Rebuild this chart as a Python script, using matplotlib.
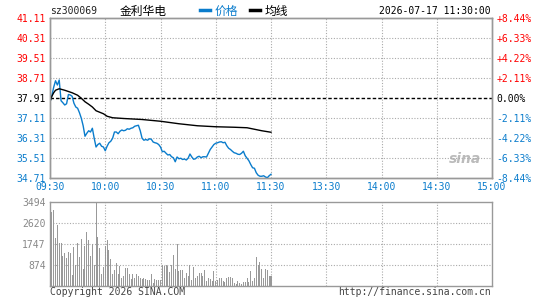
import matplotlib
matplotlib.use("Agg")
import matplotlib.pyplot as plt

# minute index from 09:30 (lunch break collapsed, 0..240)
price = [37.76, 38.00, 38.34, 38.60, 38.43, 38.63, 37.80, 37.72, 37.63, 37.68,
         38.05, 38.03, 37.98, 37.70, 37.55, 37.50, 37.32, 37.10, 36.80, 36.38,
         36.50, 36.60, 36.55, 36.70, 36.30, 35.95, 36.05, 36.10, 35.98, 35.95,
         35.80, 35.98, 36.12, 36.18, 36.30, 36.55, 36.55, 36.48, 36.58, 36.63,
         36.60, 36.62, 36.68, 36.66, 36.70, 36.72, 36.78, 36.80, 36.82, 36.60,
         36.30, 36.22, 36.25, 36.22, 36.28, 36.26, 36.15, 36.12, 36.10, 36.05,
         35.95, 35.76, 35.78, 35.70, 35.63, 35.65, 35.56, 35.52, 35.36, 35.55,
         35.48, 35.50, 35.45, 35.47, 35.43, 35.50, 35.67, 35.55, 35.46, 35.48,
         35.55, 35.58, 35.52, 35.56, 35.56, 35.55, 35.70, 35.85, 35.95, 36.05,
         36.10, 36.12, 36.15, 36.16, 36.12, 36.14, 36.00, 35.90, 35.85, 35.78,
         35.72, 35.70, 35.66, 35.65, 35.70, 35.78, 35.60, 35.50, 35.40, 35.25,
         35.12, 35.10, 34.92, 34.82, 34.78, 34.78, 34.80, 34.75, 34.72, 34.80,
         34.86]
minutes = list(range(len(price)))

avg_min = [0, 1, 2, 3, 5, 8, 12, 15, 17, 19, 21, 23, 25, 27, 29, 31, 34, 40,
           50, 60, 70, 80, 90, 100, 107, 111, 115, 120]
avg_val = [37.76, 37.98, 38.12, 38.22, 38.28, 38.22, 38.12, 38.02, 37.90, 37.76,
           37.66, 37.55, 37.40, 37.34, 37.28, 37.18, 37.12, 37.09, 37.05, 36.98,
           36.88, 36.80, 36.76, 36.74, 36.72, 36.66, 36.60, 36.54]

volume = [461, 3075, 3145, 1985, 2558, 1803, 1803, 1258, 1384, 1174,
          1426, 1384, 461, 1635, 880, 1803, 1216, 1971, 713, 1650,
          2264, 1929, 1258, 1747, 880, 3494, 2055, 1594, 503, 797,
          1650, 1929, 1510, 1118, 503, 671, 937, 489, 839, 350,
          419, 741, 741, 489, 308, 489, 350, 517, 419, 322,
          308, 322, 280, 238, 238, 517, 140, 280, 238, 238,
          238, 881, 839, 881, 839, 601, 881, 1300, 699, 1748,
          629, 657, 657, 350, 559, 419, 881, 238, 797, 322,
          419, 559, 559, 419, 671, 210, 322, 280, 210, 629,
          210, 238, 350, 350, 210, 182, 322, 378, 378, 322,
          140, 98, 210, 126, 98, 168, 182, 350, 182, 629,
          210, 350, 1216, 867, 1007, 727, 322, 699, 671, 419,
          419]

prev_close = 37.91
price_ticks = [34.71, 35.51, 36.31, 37.11, 37.91, 38.71, 39.51, 40.31, 41.11]
pct_labels = ["-8.44%", "-6.33%", "-4.22%", "-2.11%", "0.00%",
              "+2.11%", "+4.22%", "+6.33%", "+8.44%"]
time_ticks = [0, 30, 60, 90, 120, 150, 180, 210, 240]
time_labels = ["09:30", "10:00", "10:30", "11:00", "11:30",
               "13:30", "14:00", "14:30", "15:00"]
vol_ticks = [874, 1747, 2620, 3494]

RED = "#ff0000"
BLUE = "#0a7ccc"
GRAY = "#999999"
MONO = "DejaVu Sans Mono"
FS = 7

W, H = 545, 300
fig = plt.figure(figsize=(W / 100, H / 100), dpi=100)


def box(x0, y0, x1, y1):
    return [x0 / W, 1 - y1 / H, (x1 - x0) / W, (y1 - y0) / H]


grid_kw = dict(color="#aaaaaa", linestyle=(0, (1, 1.5)), linewidth=0.8)

# price panel
ax = fig.add_axes(box(50, 18, 492, 178))
ax.set_xlim(0, 240)
ax.set_ylim(price_ticks[0], price_ticks[-1])
for t in time_ticks[1:-1]:
    ax.axvline(t, zorder=1, **grid_kw)
for p in price_ticks[1:-1]:
    if p != prev_close:
        ax.axhline(p, zorder=1, **grid_kw)
ax.axhline(prev_close, color="black", linestyle=(0, (2.5, 1.5)), linewidth=1, zorder=2)
ax.plot(minutes, price, color=BLUE, linewidth=1, zorder=3)
ax.plot(avg_min, avg_val, color="black", linewidth=1, zorder=3)

ax.set_yticks(price_ticks)
ax.set_yticklabels([f"{p:.2f}" for p in price_ticks], fontfamily=MONO, fontsize=FS)
for lbl, p in zip(ax.get_yticklabels(), price_ticks):
    lbl.set_color(RED if p > prev_close else ("black" if p == prev_close else BLUE))
ax.set_xticks(time_ticks)
ax.set_xticklabels(time_labels, fontfamily=MONO, fontsize=FS, color=BLUE)
ax.tick_params(length=0, pad=3)

ax2 = ax.twinx()
ax2.set_ylim(ax.get_ylim())
ax2.set_yticks(price_ticks)
ax2.set_yticklabels(pct_labels, fontfamily=MONO, fontsize=FS)
for lbl, p in zip(ax2.get_yticklabels(), price_ticks):
    lbl.set_color(RED if p > prev_close else ("black" if p == prev_close else BLUE))
ax2.tick_params(length=0, pad=3)
for a in (ax, ax2):
    for s in a.spines.values():
        s.set_color(GRAY)
        s.set_linewidth(1)

ax.text(0.975, 0.12, "sina", transform=ax.transAxes, ha="right", va="center",
        fontsize=10, fontweight="bold", style="italic", color="#bbbbbb", zorder=0)

# volume panel
vx = fig.add_axes(box(50, 202, 492, 286))
vx.set_xlim(0, 240)
vx.set_ylim(0, vol_ticks[-1])
for t in time_ticks[1:-1]:
    vx.axvline(t, zorder=1, **grid_kw)
for v in vol_ticks[:-1]:
    vx.axhline(v, zorder=1, **grid_kw)
vx.bar(minutes, volume, width=0.55, color=GRAY, align="center", zorder=2)
vx.set_xticks([])
vx.set_yticks(vol_ticks)
vx.set_yticklabels([str(v) for v in vol_ticks], fontfamily=MONO, fontsize=FS, color="#888888")
vx.tick_params(length=0, pad=3)
for s in vx.spines.values():
    s.set_color(GRAY)
    s.set_linewidth(1)

# header and footer
def ftext(x, y, s, **kw):
    fig.text(x / W, 1 - y / H, s, va="center", **kw)

ftext(50, 11, "sz300069", fontfamily=MONO, fontsize=FS, color="#222222")
ftext(120, 11, "金利华电", fontfamily="Noto Sans CJK SC", fontsize=8.5, color="black")
fig.lines.append(plt.Line2D([200 / W, 210 / W], [1 - 10 / H] * 2, color=BLUE,
                            linewidth=2.5, transform=fig.transFigure))
ftext(215, 11, "价格", fontfamily="Noto Sans CJK SC", fontsize=8.5, color=BLUE)
fig.lines.append(plt.Line2D([250 / W, 260 / W], [1 - 10 / H] * 2, color="black",
                            linewidth=2.5, transform=fig.transFigure))
ftext(265, 11, "均线", fontfamily="Noto Sans CJK SC", fontsize=8.5, color="black")
ftext(491, 11, "2026-07-17 11:30:00", fontfamily=MONO, fontsize=FS, color="black", ha="right")
ftext(50, 292, "Copyright 2026 SINA.COM", fontfamily=MONO, fontsize=FS, color="#444444")
ftext(491, 292, "http://finance.sina.com.cn", fontfamily=MONO, fontsize=FS,
      color="#444444", ha="right")

fig.savefig("out.png", dpi=100, facecolor="white")
